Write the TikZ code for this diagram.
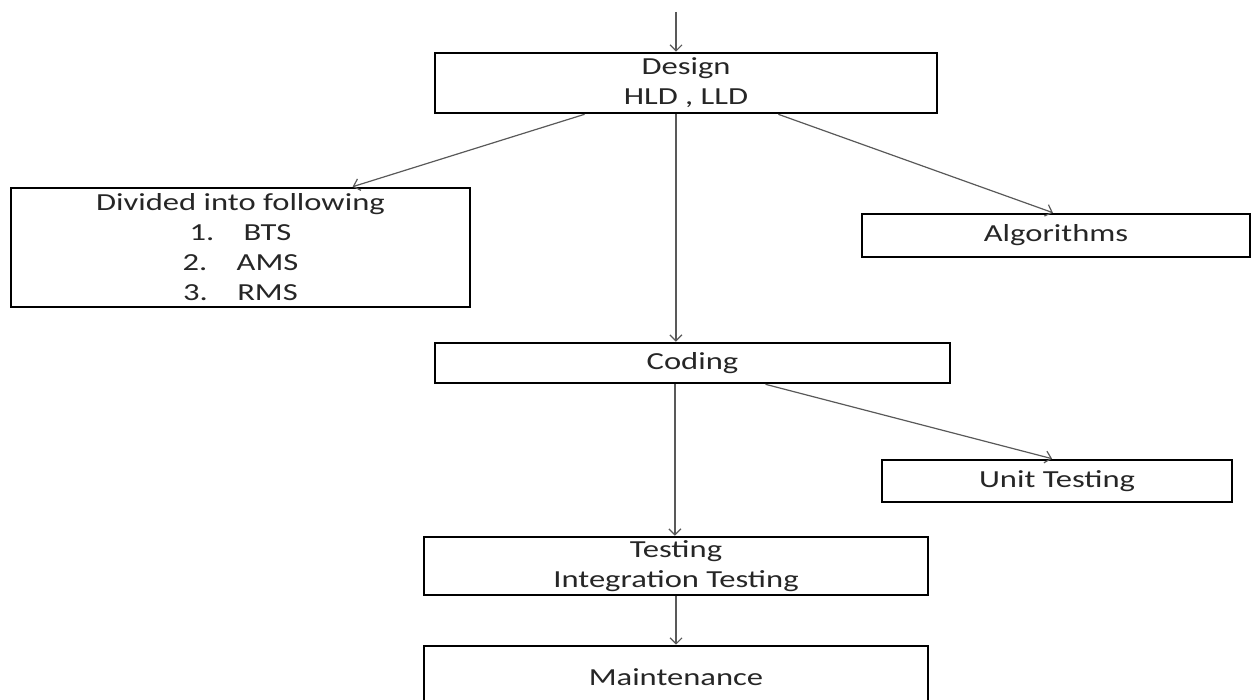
\documentclass[tikz,border=0pt]{standalone}
\usepackage{fontspec}
\setmainfont{Carlito}[FakeStretch=1.33]
\usetikzlibrary{arrows.meta,calc}
\begin{document}
\begin{tikzpicture}[x=1pt,y=-1pt,
  box/.style={draw=black, line width=2.6pt, rectangle, inner sep=0pt,
    font=\fontsize{24.5}{30}\selectfont, align=center, text=black!85},
  conn/.style={draw=black!65, line width=1.2pt,
    -{Straight Barb[length=6pt,width=12pt,line width=1.2pt]}}]
\clip (0,0) rectangle (1252,700);
\useasboundingbox (0,0) rectangle (1252,700);

\node[box, minimum width=502pt, minimum height=60pt] (design) at (686,83)
  {Design\\HLD , LLD};
\node[box, minimum width=459pt, minimum height=119pt] (divided) at (240.5,247.5)
  {Divided into following\\1.\hspace{1.2em}BTS\\2.\hspace{1.2em}AMS\\3.\hspace{1.2em}RMS};
\node[box, minimum width=388pt, minimum height=43pt] (algo) at (1056,235.5)
  {Algorithms};
\node[box, minimum width=515pt, minimum height=40pt] (coding) at (692.5,363)
  {Coding};
\node[box, minimum width=350pt, minimum height=42pt] (unit) at (1057,481)
  {Unit Testing};
\node[box, minimum width=504pt, minimum height=58pt] (testing) at (676,566)
  {Testing\\Integration Testing};
\node[box, minimum width=504pt, minimum height=62pt] (maint) at (676,677)
  {Maintenance};

\coordinate (top) at (676,12);
\draw[conn] (top) -- (top |- design.north);

\coordinate (d1) at ($(design.south west)!0.299!(design.south east)$);
\coordinate (d2) at ($(design.south west)!0.48!(design.south east)$);
\coordinate (d3) at ($(design.south west)!0.683!(design.south east)$);
\draw[conn] (d1) -- ($(divided.north west)!0.743!(divided.north east)$);
\draw[conn] (d3) -- ($(algo.north west)!0.492!(algo.north east)$);
\draw[conn] (d2) -- (d2 |- coding.north);

\coordinate (c1) at ($(coding.south west)!0.466!(coding.south east)$);
\coordinate (c2) at ($(coding.south west)!0.641!(coding.south east)$);
\draw[conn] (c2) -- ($(unit.north west)!0.486!(unit.north east)$);
\draw[conn] (c1) -- (c1 |- testing.north);

\draw[conn] (testing.south) -- (maint.north);
\end{tikzpicture}
\end{document}
